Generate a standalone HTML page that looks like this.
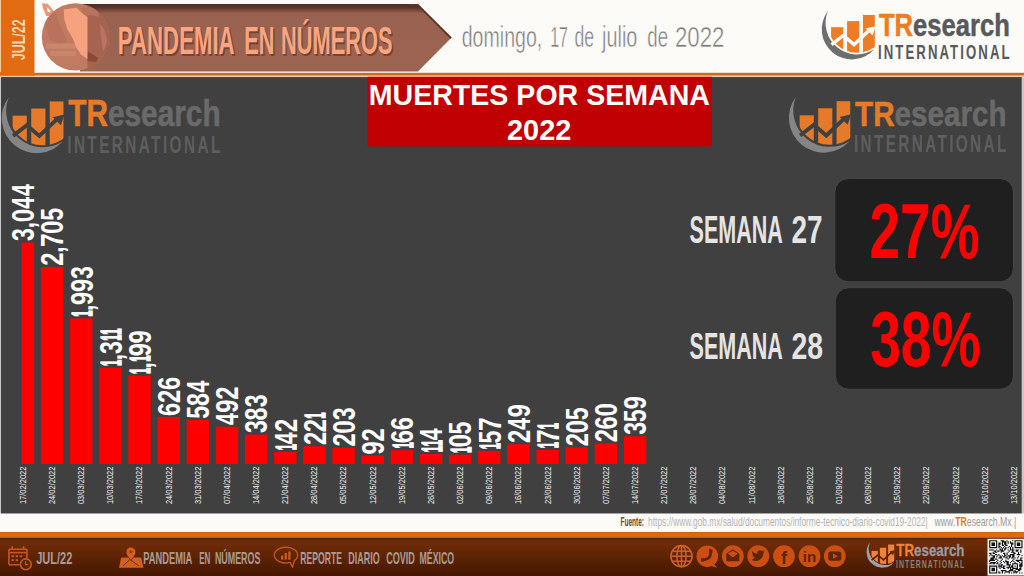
<!DOCTYPE html>
<html><head><meta charset="utf-8"><title>Muertes por semana 2022</title>
<style>
html,body{margin:0;padding:0;background:#fdfbf8;}
body{width:1024px;height:576px;overflow:hidden;position:relative;}
svg{display:block;position:absolute;left:0;top:0;}
</style></head><body>
<svg width="1024" height="576" viewBox="0 0 1024 576">
<defs>
<clipPath id="lc"><circle cx="39.07" cy="14.94" r="29.7"/></clipPath>
<linearGradient id="foot" x1="0" y1="0" x2="0" y2="1"><stop offset="0" stop-color="#722c06"/><stop offset="0.2" stop-color="#6c2a06"/><stop offset="1" stop-color="#431700"/></linearGradient>
<linearGradient id="ban" x1="0" y1="0" x2="0" y2="1"><stop offset="0" stop-color="#4b2c25"/><stop offset="0.05" stop-color="#58342a"/><stop offset="0.09" stop-color="#774838"/><stop offset="0.14" stop-color="#99614f"/><stop offset="1" stop-color="#9d6452"/></linearGradient><clipPath id="bc"><polygon points="80,4 418,4 451.6,37.5 418,71.5 80,71.5"/></clipPath>
</defs>
<rect x="0" y="0" width="1024" height="576" fill="#fdfbf8"/>
<polygon points="80,4 418,4 451.6,37.5 418,71.5 80,71.5" fill="url(#ban)"/><polyline points="410,4 418.5,4 452,37.5" fill="none" stroke="#5a3429" stroke-width="4" clip-path="url(#bc)"/><path d="M41.9 3.2 L47.8 3.8 L54.2 11.5 L52.5 16 L46.2 16 L43.2 8.8 Z" fill="#e6987a"/><path d="M46.9 7.2 L50.6 10.6 L49.6 12.6 L47.4 11.2 Z" fill="#fdfbf8"/><clipPath id="gc"><circle cx="75.5" cy="36.9" r="33.7"/></clipPath>
<g clip-path="url(#gc)">
<rect x="40" y="2" width="72" height="70" fill="#c27b63"/>
<path d="M44 20 L55 12 L62 30 L68 42 L60 44 L50 40 Z" fill="#b8705a" opacity="0.8"/>
<rect x="46" y="43.6" width="30" height="5" fill="#cd8b71" opacity="0.8"/>
<rect x="50" y="51" width="26" height="5" fill="#cd8b71" opacity="0.7"/>
<rect x="87.4" y="2" width="25" height="70" fill="#a6634f"/>
<path d="M80.4 8 Q90 5 98 10 L99 17 Q92 14 86 16 Q82 13 80.4 8 Z" fill="#b8735c"/>
<path d="M100 24 Q106 30 107 40 Q106 48 103 51 Q101 40 100 24 Z" fill="#b87460"/>
<path d="M87.4 51.3 Q92 54 98.3 58 L96 62 L87.4 61 Z" fill="#8a4937"/>
<path d="M63.7 9.6 L76.5 7.7 L81.6 12.8 L87.4 17.3 L87.4 59 L81 54.6 L76.5 48.1 L72.7 38.5 L66.9 28.2 L64.3 19.3 Z" fill="#f7a27e"/>
</g>
<text x="119.13" y="55.7" font-family="Liberation Sans" font-weight="bold" font-size="38.7" textLength="116.84" lengthAdjust="spacingAndGlyphs" fill="#5a2e1e" opacity="0.6">PANDEMIA</text><text x="245.64" y="55.7" font-family="Liberation Sans" font-weight="bold" font-size="38.7" textLength="30.22" lengthAdjust="spacingAndGlyphs" fill="#5a2e1e" opacity="0.6">EN</text><text x="282.34" y="55.7" font-family="Liberation Sans" font-weight="bold" font-size="38.7" textLength="111.61" lengthAdjust="spacingAndGlyphs" fill="#5a2e1e" opacity="0.6">NÚMEROS</text><text x="117.83" y="54.4" font-family="Liberation Sans" font-weight="bold" font-size="38.7" textLength="116.84" lengthAdjust="spacingAndGlyphs" fill="#f8a580">PANDEMIA</text><text x="244.34" y="54.4" font-family="Liberation Sans" font-weight="bold" font-size="38.7" textLength="30.22" lengthAdjust="spacingAndGlyphs" fill="#f8a580">EN</text><text x="281.04" y="54.4" font-family="Liberation Sans" font-weight="bold" font-size="38.7" textLength="111.61" lengthAdjust="spacingAndGlyphs" fill="#f8a580">NÚMEROS</text><text x="461.68" y="47.4" font-family="Liberation Sans" font-size="30.2" textLength="80.58" lengthAdjust="spacingAndGlyphs" fill="#7f7f7f" stroke="#fdfbf8" stroke-width="0.5">domingo,</text><text x="550.19" y="47.4" font-family="Liberation Sans" font-size="30.2" textLength="17.71" lengthAdjust="spacingAndGlyphs" fill="#7f7f7f" stroke="#fdfbf8" stroke-width="0.5">17</text><text x="574.56" y="47.4" font-family="Liberation Sans" font-size="30.2" textLength="19.62" lengthAdjust="spacingAndGlyphs" fill="#7f7f7f" stroke="#fdfbf8" stroke-width="0.5">de</text><text x="602.08" y="47.4" font-family="Liberation Sans" font-size="30.2" textLength="35.25" lengthAdjust="spacingAndGlyphs" fill="#7f7f7f" stroke="#fdfbf8" stroke-width="0.5">julio</text><text x="647.32" y="47.4" font-family="Liberation Sans" font-size="30.2" textLength="20.71" lengthAdjust="spacingAndGlyphs" fill="#7f7f7f" stroke="#fdfbf8" stroke-width="0.5">de</text><text x="674.98" y="47.4" font-family="Liberation Sans" font-size="30.2" textLength="49.44" lengthAdjust="spacingAndGlyphs" fill="#7f7f7f" stroke="#fdfbf8" stroke-width="0.5">2022</text><g transform="translate(818 8) scale(1.0)" opacity="1"><path d="M9.8 3.3 A30.05 30.05 0 0 0 56.3 41.3 A31.5 31.5 0 0 1 9.8 3.3 Z" fill="#6d6e70"/><g fill="#ef7b22" clip-path="url(#lc)"><rect x="13.1" y="19.2" width="12.2" height="40"/><rect x="29.1" y="13.1" width="12.2" height="40"/><rect x="45" y="7" width="11.8" height="40"/></g><polyline points="13.5,36.6 25.3,27.4 36.1,36.6 51.5,22" fill="none" stroke="#fdfbf8" stroke-width="3.4"/><path d="M57.6 18.2 L47.6 20.6 L54.6 27.4 Z" fill="#fdfbf8"/><text x="60.91" y="28.1" font-family="Liberation Sans" font-weight="bold" font-size="31" textLength="130.87" lengthAdjust="spacingAndGlyphs" stroke-width="0.5"><tspan fill="#ef7b22" stroke="#ef7b22">TR</tspan><tspan fill="#58595b" stroke="#58595b">esearch</tspan></text><text x="60.0" y="51.2" font-family="Liberation Sans" font-weight="bold" font-size="20.2" textLength="133.6" lengthAdjust="spacingAndGlyphs" letter-spacing="3.2" fill="#58595b">INTERNATIONAL</text></g><rect x="0" y="72.8" width="1024" height="2.9" fill="#c96a1c"/><rect x="0" y="75.7" width="1024" height="1.4" fill="#ecc5a4"/><rect x="0" y="0" width="34.5" height="75.7" fill="#e06b12"/><rect x="0" y="0" width="1" height="72" fill="#f6c89a"/><text transform="translate(25 60) rotate(-90)" x="-0.19" font-family="Liberation Sans" font-weight="bold" font-size="17.7" textLength="40.79" lengthAdjust="spacingAndGlyphs" fill="#f8d3b2">JUL/22</text>
<rect x="0" y="77.1" width="1024" height="436.3" fill="#c8c8c8"/><rect x="1" y="77.1" width="1020.7" height="436.3" fill="#404040"/><g transform="translate(-2.64 93.3) scale(1.164)" opacity="1"><path d="M9.8 3.3 A30.05 30.05 0 0 0 56.3 41.3 A31.5 31.5 0 0 1 9.8 3.3 Z" fill="#858585"/><g fill="#e57a2a" clip-path="url(#lc)"><rect x="13.1" y="19.2" width="12.2" height="40"/><rect x="29.1" y="13.1" width="12.2" height="40"/><rect x="45" y="7" width="11.8" height="40"/></g><polyline points="13.5,36.6 25.3,27.4 36.1,36.6 51.5,22" fill="none" stroke="#404040" stroke-width="3.4"/><path d="M57.6 18.2 L47.6 20.6 L54.6 27.4 Z" fill="#404040"/><text x="60.91" y="28.1" font-family="Liberation Sans" font-weight="bold" font-size="31" textLength="130.87" lengthAdjust="spacingAndGlyphs" stroke-width="0.5"><tspan fill="#e57a2a" stroke="#e57a2a">TR</tspan><tspan fill="#6a6a6a" stroke="#6a6a6a">esearch</tspan></text><text x="60.0" y="51.2" font-family="Liberation Sans" font-weight="bold" font-size="20.2" textLength="133.6" lengthAdjust="spacingAndGlyphs" letter-spacing="3.2" fill="#5e5e5e">INTERNATIONAL</text></g><g transform="translate(784.5 93.1) scale(1.158)" opacity="1"><path d="M9.8 3.3 A30.05 30.05 0 0 0 56.3 41.3 A31.5 31.5 0 0 1 9.8 3.3 Z" fill="#858585"/><g fill="#e57a2a" clip-path="url(#lc)"><rect x="13.1" y="19.2" width="12.2" height="40"/><rect x="29.1" y="13.1" width="12.2" height="40"/><rect x="45" y="7" width="11.8" height="40"/></g><polyline points="13.5,36.6 25.3,27.4 36.1,36.6 51.5,22" fill="none" stroke="#404040" stroke-width="3.4"/><path d="M57.6 18.2 L47.6 20.6 L54.6 27.4 Z" fill="#404040"/><text x="60.91" y="28.1" font-family="Liberation Sans" font-weight="bold" font-size="31" textLength="130.87" lengthAdjust="spacingAndGlyphs" stroke-width="0.5"><tspan fill="#e57a2a" stroke="#e57a2a">TR</tspan><tspan fill="#6a6a6a" stroke="#6a6a6a">esearch</tspan></text><text x="60.0" y="51.2" font-family="Liberation Sans" font-weight="bold" font-size="20.2" textLength="133.6" lengthAdjust="spacingAndGlyphs" letter-spacing="3.2" fill="#5e5e5e">INTERNATIONAL</text></g><rect x="367.6" y="76.8" width="344.3" height="69.7" fill="#c00000"/><text x="368.79" y="104.6" font-family="Liberation Sans" font-weight="bold" font-size="29.8" textLength="341.16" lengthAdjust="spacingAndGlyphs" fill="#ffffff">MUERTES POR SEMANA</text><text x="507.0" y="139.6" font-family="Liberation Sans" font-weight="bold" font-size="29.5" textLength="64.36" lengthAdjust="spacingAndGlyphs" fill="#ffffff">2022</text><clipPath id="pc"><rect x="21.7" y="78" width="1000" height="440"/></clipPath><g clip-path="url(#pc)" fill="#ff0000"><rect x="11.75" y="242.46" width="22.4" height="221.54"/><rect x="40.90" y="266.94" width="22.4" height="197.06"/><rect x="70.05" y="318.35" width="22.4" height="145.65"/><rect x="99.20" y="367.59" width="22.4" height="96.41"/><rect x="128.35" y="375.67" width="22.4" height="88.33"/><rect x="157.50" y="417.04" width="22.4" height="46.96"/><rect x="186.65" y="420.08" width="22.4" height="43.92"/><rect x="215.80" y="426.72" width="22.4" height="37.28"/><rect x="244.95" y="434.59" width="22.4" height="29.41"/><rect x="274.10" y="451.99" width="22.4" height="12.01"/><rect x="303.25" y="446.28" width="22.4" height="17.72"/><rect x="332.40" y="447.58" width="22.4" height="16.42"/><rect x="361.55" y="455.60" width="22.4" height="8.40"/><rect x="390.70" y="450.25" width="22.4" height="13.75"/><rect x="419.85" y="454.01" width="22.4" height="9.99"/><rect x="449.00" y="454.66" width="22.4" height="9.34"/><rect x="478.15" y="450.90" width="22.4" height="13.10"/><rect x="507.30" y="444.26" width="22.4" height="19.74"/><rect x="536.45" y="449.89" width="22.4" height="14.11"/><rect x="565.60" y="447.44" width="22.4" height="16.56"/><rect x="594.75" y="443.47" width="22.4" height="20.53"/><rect x="623.90" y="436.32" width="22.4" height="27.68"/></g><g font-family="Liberation Sans" font-weight="bold" font-size="31.7" fill="#ffffff"><text transform="translate(34.20 240.99) rotate(-90) scale(0.730 1)">3</text><text transform="translate(34.20 228.28) rotate(-90) scale(0.706 1)">,</text><text transform="translate(34.20 222.32) rotate(-90) scale(0.763 1)">0</text><text transform="translate(34.20 208.79) rotate(-90) scale(0.677 1)">4</text><text transform="translate(34.20 195.89) rotate(-90) scale(0.677 1)">4</text><text transform="translate(63.35 265.77) rotate(-90) scale(0.754 1)">2</text><text transform="translate(63.35 252.76) rotate(-90) scale(0.706 1)">,</text><text transform="translate(63.35 246.89) rotate(-90) scale(0.773 1)">7</text><text transform="translate(63.35 233.90) rotate(-90) scale(0.763 1)">0</text><text transform="translate(63.35 220.75) rotate(-90) scale(0.729 1)">5</text><text transform="translate(92.00 316.65) rotate(-90) scale(0.353 0.955)" stroke="#ffffff" stroke-width="1.1" vector-effect="non-scaling-stroke">1</text><text transform="translate(92.50 311.06) rotate(-90) scale(0.706 1)">,</text><text transform="translate(92.50 304.97) rotate(-90) scale(0.749 1)">9</text><text transform="translate(92.50 292.07) rotate(-90) scale(0.749 1)">9</text><text transform="translate(92.50 278.88) rotate(-90) scale(0.730 1)">3</text><text transform="translate(121.15 365.89) rotate(-90) scale(0.353 0.955)" stroke="#ffffff" stroke-width="1.1" vector-effect="non-scaling-stroke">1</text><text transform="translate(121.65 360.30) rotate(-90) scale(0.706 1)">,</text><text transform="translate(121.65 353.92) rotate(-90) scale(0.730 1)">3</text><text transform="translate(121.15 340.79) rotate(-90) scale(0.353 0.955)" stroke="#ffffff" stroke-width="1.1" vector-effect="non-scaling-stroke">1</text><text transform="translate(121.15 334.79) rotate(-90) scale(0.353 0.955)" stroke="#ffffff" stroke-width="1.1" vector-effect="non-scaling-stroke">1</text><text transform="translate(150.30 373.98) rotate(-90) scale(0.353 0.955)" stroke="#ffffff" stroke-width="1.1" vector-effect="non-scaling-stroke">1</text><text transform="translate(150.80 368.39) rotate(-90) scale(0.706 1)">,</text><text transform="translate(150.30 361.78) rotate(-90) scale(0.353 0.955)" stroke="#ffffff" stroke-width="1.1" vector-effect="non-scaling-stroke">1</text><text transform="translate(150.80 356.30) rotate(-90) scale(0.749 1)">9</text><text transform="translate(150.80 343.40) rotate(-90) scale(0.749 1)">9</text><text transform="translate(179.95 415.91) rotate(-90) scale(0.750 1)">6</text><text transform="translate(179.95 402.97) rotate(-90) scale(0.754 1)">2</text><text transform="translate(179.95 390.11) rotate(-90) scale(0.750 1)">6</text><text transform="translate(209.10 418.79) rotate(-90) scale(0.729 1)">5</text><text transform="translate(209.10 405.91) rotate(-90) scale(0.735 1)">8</text><text transform="translate(209.10 392.60) rotate(-90) scale(0.677 1)">4</text><text transform="translate(238.25 425.04) rotate(-90) scale(0.677 1)">4</text><text transform="translate(238.25 412.64) rotate(-90) scale(0.749 1)">9</text><text transform="translate(238.25 399.75) rotate(-90) scale(0.754 1)">2</text><text transform="translate(267.40 433.12) rotate(-90) scale(0.730 1)">3</text><text transform="translate(267.40 420.43) rotate(-90) scale(0.735 1)">8</text><text transform="translate(267.40 407.32) rotate(-90) scale(0.730 1)">3</text><text transform="translate(296.05 450.29) rotate(-90) scale(0.353 0.955)" stroke="#ffffff" stroke-width="1.1" vector-effect="non-scaling-stroke">1</text><text transform="translate(296.55 444.31) rotate(-90) scale(0.677 1)">4</text><text transform="translate(296.55 431.92) rotate(-90) scale(0.754 1)">2</text><text transform="translate(325.70 445.11) rotate(-90) scale(0.754 1)">2</text><text transform="translate(325.70 432.21) rotate(-90) scale(0.754 1)">2</text><text transform="translate(325.20 418.79) rotate(-90) scale(0.353 0.955)" stroke="#ffffff" stroke-width="1.1" vector-effect="non-scaling-stroke">1</text><text transform="translate(354.85 446.41) rotate(-90) scale(0.754 1)">2</text><text transform="translate(354.85 433.64) rotate(-90) scale(0.763 1)">0</text><text transform="translate(354.85 420.31) rotate(-90) scale(0.730 1)">3</text><text transform="translate(384.00 454.42) rotate(-90) scale(0.749 1)">9</text><text transform="translate(384.00 441.53) rotate(-90) scale(0.754 1)">2</text><text transform="translate(412.65 448.56) rotate(-90) scale(0.353 0.955)" stroke="#ffffff" stroke-width="1.1" vector-effect="non-scaling-stroke">1</text><text transform="translate(413.15 443.13) rotate(-90) scale(0.750 1)">6</text><text transform="translate(413.15 430.23) rotate(-90) scale(0.750 1)">6</text><text transform="translate(441.80 452.31) rotate(-90) scale(0.353 0.955)" stroke="#ffffff" stroke-width="1.1" vector-effect="non-scaling-stroke">1</text><text transform="translate(441.80 446.31) rotate(-90) scale(0.353 0.955)" stroke="#ffffff" stroke-width="1.1" vector-effect="non-scaling-stroke">1</text><text transform="translate(442.30 440.33) rotate(-90) scale(0.677 1)">4</text><text transform="translate(470.95 452.96) rotate(-90) scale(0.353 0.955)" stroke="#ffffff" stroke-width="1.1" vector-effect="non-scaling-stroke">1</text><text transform="translate(471.45 447.62) rotate(-90) scale(0.763 1)">0</text><text transform="translate(471.45 434.47) rotate(-90) scale(0.729 1)">5</text><text transform="translate(500.10 449.21) rotate(-90) scale(0.353 0.955)" stroke="#ffffff" stroke-width="1.1" vector-effect="non-scaling-stroke">1</text><text transform="translate(500.60 443.62) rotate(-90) scale(0.729 1)">5</text><text transform="translate(500.60 431.06) rotate(-90) scale(0.773 1)">7</text><text transform="translate(529.75 443.09) rotate(-90) scale(0.754 1)">2</text><text transform="translate(529.75 429.69) rotate(-90) scale(0.677 1)">4</text><text transform="translate(529.75 417.29) rotate(-90) scale(0.749 1)">9</text><text transform="translate(558.40 448.20) rotate(-90) scale(0.353 0.955)" stroke="#ffffff" stroke-width="1.1" vector-effect="non-scaling-stroke">1</text><text transform="translate(558.90 442.95) rotate(-90) scale(0.773 1)">7</text><text transform="translate(558.40 429.30) rotate(-90) scale(0.353 0.955)" stroke="#ffffff" stroke-width="1.1" vector-effect="non-scaling-stroke">1</text><text transform="translate(588.05 446.27) rotate(-90) scale(0.754 1)">2</text><text transform="translate(588.05 433.50) rotate(-90) scale(0.763 1)">0</text><text transform="translate(588.05 420.35) rotate(-90) scale(0.729 1)">5</text><text transform="translate(617.20 442.30) rotate(-90) scale(0.754 1)">2</text><text transform="translate(617.20 429.44) rotate(-90) scale(0.750 1)">6</text><text transform="translate(617.20 416.62) rotate(-90) scale(0.763 1)">0</text><text transform="translate(646.35 434.85) rotate(-90) scale(0.730 1)">3</text><text transform="translate(646.35 422.13) rotate(-90) scale(0.729 1)">5</text><text transform="translate(646.35 409.34) rotate(-90) scale(0.749 1)">9</text></g><g font-family="Liberation Sans" font-size="8.2" fill="#f0f0f0"><text transform="translate(25.80 503.50) rotate(-90)" x="-0.57" textLength="37.45" lengthAdjust="spacingAndGlyphs">17/02/2022</text><text transform="translate(54.95 503.50) rotate(-90)" x="-0.57" textLength="37.45" lengthAdjust="spacingAndGlyphs">24/02/2022</text><text transform="translate(84.10 503.50) rotate(-90)" x="-0.57" textLength="37.45" lengthAdjust="spacingAndGlyphs">03/03/2022</text><text transform="translate(113.25 503.50) rotate(-90)" x="-0.57" textLength="37.45" lengthAdjust="spacingAndGlyphs">10/03/2022</text><text transform="translate(142.40 503.50) rotate(-90)" x="-0.57" textLength="37.45" lengthAdjust="spacingAndGlyphs">17/03/2022</text><text transform="translate(171.55 503.50) rotate(-90)" x="-0.57" textLength="37.45" lengthAdjust="spacingAndGlyphs">24/03/2022</text><text transform="translate(200.70 503.50) rotate(-90)" x="-0.57" textLength="37.45" lengthAdjust="spacingAndGlyphs">31/03/2022</text><text transform="translate(229.85 503.50) rotate(-90)" x="-0.57" textLength="37.45" lengthAdjust="spacingAndGlyphs">07/04/2022</text><text transform="translate(259.00 503.50) rotate(-90)" x="-0.57" textLength="37.45" lengthAdjust="spacingAndGlyphs">14/04/2022</text><text transform="translate(288.15 503.50) rotate(-90)" x="-0.57" textLength="37.45" lengthAdjust="spacingAndGlyphs">21/04/2022</text><text transform="translate(317.30 503.50) rotate(-90)" x="-0.57" textLength="37.45" lengthAdjust="spacingAndGlyphs">28/04/2022</text><text transform="translate(346.45 503.50) rotate(-90)" x="-0.57" textLength="37.45" lengthAdjust="spacingAndGlyphs">05/05/2022</text><text transform="translate(375.60 503.50) rotate(-90)" x="-0.57" textLength="37.45" lengthAdjust="spacingAndGlyphs">12/05/2022</text><text transform="translate(404.75 503.50) rotate(-90)" x="-0.57" textLength="37.45" lengthAdjust="spacingAndGlyphs">19/05/2022</text><text transform="translate(433.90 503.50) rotate(-90)" x="-0.57" textLength="37.45" lengthAdjust="spacingAndGlyphs">26/05/2022</text><text transform="translate(463.05 503.50) rotate(-90)" x="-0.57" textLength="37.45" lengthAdjust="spacingAndGlyphs">02/06/2022</text><text transform="translate(492.20 503.50) rotate(-90)" x="-0.57" textLength="37.45" lengthAdjust="spacingAndGlyphs">09/06/2022</text><text transform="translate(521.35 503.50) rotate(-90)" x="-0.57" textLength="37.45" lengthAdjust="spacingAndGlyphs">16/06/2022</text><text transform="translate(550.50 503.50) rotate(-90)" x="-0.57" textLength="37.45" lengthAdjust="spacingAndGlyphs">23/06/2022</text><text transform="translate(579.65 503.50) rotate(-90)" x="-0.57" textLength="37.45" lengthAdjust="spacingAndGlyphs">30/06/2022</text><text transform="translate(608.80 503.50) rotate(-90)" x="-0.57" textLength="37.45" lengthAdjust="spacingAndGlyphs">07/07/2022</text><text transform="translate(637.95 503.50) rotate(-90)" x="-0.57" textLength="37.45" lengthAdjust="spacingAndGlyphs">14/07/2022</text><text transform="translate(667.10 503.50) rotate(-90)" x="-0.57" textLength="37.45" lengthAdjust="spacingAndGlyphs">21/07/2022</text><text transform="translate(696.25 503.50) rotate(-90)" x="-0.57" textLength="37.45" lengthAdjust="spacingAndGlyphs">28/07/2022</text><text transform="translate(725.40 503.50) rotate(-90)" x="-0.57" textLength="37.45" lengthAdjust="spacingAndGlyphs">04/08/2022</text><text transform="translate(754.55 503.50) rotate(-90)" x="-0.57" textLength="37.45" lengthAdjust="spacingAndGlyphs">11/08/2022</text><text transform="translate(783.70 503.50) rotate(-90)" x="-0.57" textLength="37.45" lengthAdjust="spacingAndGlyphs">18/08/2022</text><text transform="translate(812.85 503.50) rotate(-90)" x="-0.57" textLength="37.45" lengthAdjust="spacingAndGlyphs">25/08/2022</text><text transform="translate(842.00 503.50) rotate(-90)" x="-0.57" textLength="37.45" lengthAdjust="spacingAndGlyphs">01/09/2022</text><text transform="translate(871.15 503.50) rotate(-90)" x="-0.57" textLength="37.45" lengthAdjust="spacingAndGlyphs">08/09/2022</text><text transform="translate(900.30 503.50) rotate(-90)" x="-0.57" textLength="37.45" lengthAdjust="spacingAndGlyphs">15/09/2022</text><text transform="translate(929.45 503.50) rotate(-90)" x="-0.57" textLength="37.45" lengthAdjust="spacingAndGlyphs">22/09/2022</text><text transform="translate(958.60 503.50) rotate(-90)" x="-0.57" textLength="37.45" lengthAdjust="spacingAndGlyphs">29/09/2022</text><text transform="translate(987.75 503.50) rotate(-90)" x="-0.57" textLength="37.45" lengthAdjust="spacingAndGlyphs">06/10/2022</text><text transform="translate(1016.90 503.50) rotate(-90)" x="-0.57" textLength="37.45" lengthAdjust="spacingAndGlyphs">13/10/2022</text></g><g fill="#1f1f1f" stroke="#474747" stroke-width="1"><rect x="834.8" y="178.5" width="178.7" height="103.3" rx="13.5"/><rect x="835.3" y="287.7" width="178.2" height="101.6" rx="13.5"/></g><text x="689.58" y="242.5" font-family="Liberation Sans" font-weight="bold" font-size="37.9" textLength="93.29" lengthAdjust="spacingAndGlyphs" fill="#e4e4e4">SEMANA</text><text x="791.53" y="242.5" font-family="Liberation Sans" font-weight="bold" font-size="37.9" textLength="31.1" lengthAdjust="spacingAndGlyphs" fill="#e4e4e4">27</text><text x="689.58" y="358.75" font-family="Liberation Sans" font-weight="bold" font-size="37.0" textLength="93.29" lengthAdjust="spacingAndGlyphs" fill="#e4e4e4">SEMANA</text><text x="791.52" y="358.75" font-family="Liberation Sans" font-weight="bold" font-size="37.0" textLength="31.56" lengthAdjust="spacingAndGlyphs" fill="#e4e4e4">28</text><text x="869.49" y="257.8" font-family="Liberation Sans" font-weight="bold" font-size="78.2" textLength="110.06" lengthAdjust="spacingAndGlyphs" fill="#ff0000">27%</text><text x="870.13" y="366" font-family="Liberation Sans" font-weight="bold" font-size="77.4" textLength="110.63" lengthAdjust="spacingAndGlyphs" fill="#ff0000">38%</text><text x="620.57" y="526.3" font-family="Liberation Sans" font-weight="bold" font-size="12.8" textLength="23.46" lengthAdjust="spacingAndGlyphs" fill="#5e4a3a">Fuente:</text><text x="648.12" y="526.3" font-family="Liberation Sans" font-size="12.8" textLength="279.62" lengthAdjust="spacingAndGlyphs" fill="#b4b4b4">https://www.gob.mx/salud/documentos/informe-tecnico-diario-covid19-2022|</text><text x="934.61" y="526.3" font-family="Liberation Sans" font-size="12.8" textLength="81.66" lengthAdjust="spacingAndGlyphs" fill="#9a9a9a">www.<tspan fill="#e07a20" font-weight="bold">TR</tspan>esearch.Mx |</text>
<rect x="0" y="532" width="1024" height="6" fill="#e2680c"/><rect x="0" y="532" width="1024" height="1.2" fill="#c8661c"/>
<rect x="0" y="538" width="1024" height="38" fill="url(#foot)"/><rect x="0" y="537.8" width="1024" height="1.6" fill="#5c2204"/>
<g fill="none" stroke="#c9561a" stroke-width="1.6"><rect x="8.9" y="549.2" width="18" height="15.5" rx="1"/><line x1="8.9" y1="552.6" x2="26.9" y2="552.6"/><line x1="12.2" y1="546.3" x2="12.2" y2="550"/><line x1="23.6" y1="546.3" x2="23.6" y2="550"/></g><g fill="#c9561a"><rect x="11.5" y="555.2" width="2.4" height="2"/><rect x="15.6" y="555.2" width="2.4" height="2"/><rect x="19.7" y="555.2" width="2.4" height="2"/><rect x="11.5" y="559.2" width="2.4" height="2"/><rect x="15.6" y="559.2" width="2.4" height="2"/></g><circle cx="25.8" cy="564.3" r="6.3" fill="#5a2206"/><circle cx="25.8" cy="564.3" r="5.4" fill="none" stroke="#c9561a" stroke-width="1.6"/><path d="M25.6 561.2 V564.6 H28.4" fill="none" stroke="#c9561a" stroke-width="1.3"/><text x="36.13" y="563.9" font-family="Liberation Sans" font-weight="bold" font-size="16.9" textLength="36.21" lengthAdjust="spacingAndGlyphs" fill="#aa9c94">JUL/22</text><path d="M121.2 557.5 L141.2 557.5 L143.4 567.8 L119 567.8 Z" fill="#d2601c"/><path d="M123 566 L130 559.5 L139 566" fill="none" stroke="#6a2a08" stroke-width="0.9"/><path d="M130.9 560.3 C127.6 556.5 126 554.6 126 552 A4.9 4.9 0 0 1 135.8 552 C135.8 554.6 134.2 556.5 130.9 560.3 Z" fill="#d2601c" stroke="#6a2a08" stroke-width="0.8"/><circle cx="130.9" cy="551.8" r="1.6" fill="#9a3a0c"/><text x="143.18" y="564.0" font-family="Liberation Sans" font-weight="bold" font-size="17.4" textLength="49.06" lengthAdjust="spacingAndGlyphs" fill="#aa9c94">PANDEMIA</text><text x="199.16" y="564.0" font-family="Liberation Sans" font-weight="bold" font-size="17.4" textLength="11.18" lengthAdjust="spacingAndGlyphs" fill="#aa9c94">EN</text><text x="214.91" y="564.0" font-family="Liberation Sans" font-weight="bold" font-size="17.4" textLength="45.44" lengthAdjust="spacingAndGlyphs" fill="#aa9c94">NÚMEROS</text><path d="M292.6 567.2 L290.2 562.4 A11.7 7.8 0 1 1 294.3 560.6 Z" fill="none" stroke="#c9561a" stroke-width="1.3" stroke-linejoin="round"/><g fill="#c9561a"><rect x="281" y="555.5" width="2.4" height="4.2"/><rect x="284.6" y="553" width="2.4" height="6.7"/><rect x="288.2" y="551.4" width="2.4" height="8.3"/></g><text x="300.22" y="563.9" font-family="Liberation Sans" font-weight="bold" font-size="17.0" textLength="41.71" lengthAdjust="spacingAndGlyphs" fill="#aa9c94">REPORTE</text><text x="348.3" y="563.9" font-family="Liberation Sans" font-weight="bold" font-size="17.0" textLength="31.38" lengthAdjust="spacingAndGlyphs" fill="#aa9c94">DIARIO</text><text x="386.13" y="563.9" font-family="Liberation Sans" font-weight="bold" font-size="17.0" textLength="28.75" lengthAdjust="spacingAndGlyphs" fill="#aa9c94">COVID</text><text x="419.51" y="563.9" font-family="Liberation Sans" font-weight="bold" font-size="17.0" textLength="34.55" lengthAdjust="spacingAndGlyphs" fill="#aa9c94">MÉXICO</text><g fill="none" stroke="#d0602a" stroke-width="1.5"><circle cx="681.5" cy="556.2" r="10.6"/><ellipse cx="681.5" cy="556.2" rx="4.6" ry="10.6"/><line x1="681.5" y1="545.6" x2="681.5" y2="566.8000000000001"/><line x1="672.3" y1="551.2" x2="690.7" y2="551.2"/><line x1="672.3" y1="561.2" x2="690.7" y2="561.2"/><line x1="670.9" y1="556.2" x2="692.1" y2="556.2"/></g><circle cx="707.3" cy="556.2" r="10.8" fill="#cc4f12"/><path d="M713.3 563.2 L717.3 567.7 L710.3 565.7 Z" fill="#cc4f12"/><path d="M710.5 550.4000000000001 Q711.9 559.8000000000001 702.5 559.8000000000001" fill="none" stroke="#5e2406" stroke-width="2.6" stroke-linecap="round"/><path d="M708.9 549.2 L712.6999999999999 550.2 L712.3 553.0 L709.5 552.6 Z" fill="#5e2406"/><path d="M700.9 558.0 L701.3 561.8000000000001 L704.3 561.6 L704.0999999999999 558.6 Z" fill="#5e2406"/><circle cx="732.8" cy="556.2" r="10.9" fill="#cc4f12"/><path d="M726.3 553.7 L732.8 549.2 L739.3 553.7 V561.2 H726.3 Z" fill="#5e2406"/><path d="M727.8 553.6 L732.8 557.4000000000001 L737.8 553.6 L732.8 550.7 Z" fill="#cc4f12"/><circle cx="758.3" cy="556.2" r="10.9" fill="#cc4f12"/><path d="M751.8 560.0 C756.3 562.7 762.8 560.2 763.3 553.2 L764.8 551.4000000000001 L762.9 551.8000000000001 L763.9 550.2 L761.8 550.9000000000001 C759.8 549.2 756.8 550.7 757.3 553.7 C754.8 553.6 753.3 552.4000000000001 752.3 550.9000000000001 C751.6999999999999 552.7 752.5 554.2 753.5 554.8000000000001 L752.4 554.6 C752.6999999999999 556.2 753.6999999999999 557.0 754.6999999999999 557.3000000000001 C753.9 558.8000000000001 752.8 559.6 751.8 560.0 Z" fill="#5e2406"/><circle cx="784" cy="556.2" r="10.9" fill="#cc4f12"/><text x="784" y="564.0" text-anchor="middle" font-family="Liberation Sans" font-weight="bold" font-size="18" fill="#5e2406">f</text><circle cx="809.5" cy="556.2" r="10.9" fill="#cc4f12"/><text x="809.5" y="561.8000000000001" text-anchor="middle" font-family="Liberation Sans" font-weight="bold" font-size="15" fill="#5e2406">in</text><circle cx="834.8" cy="556.2" r="10.9" fill="#cc4f12"/><rect x="828.3" y="551.6" width="13" height="9.2" rx="2.4" fill="#5e2406"/><path d="M833.0 553.6 L837.8 556.2 L833.0 558.8000000000001 Z" fill="#cc4f12"/><g transform="translate(864.7 540.9) scale(0.52)" opacity="1"><path d="M9.8 3.3 A30.05 30.05 0 0 0 56.3 41.3 A31.5 31.5 0 0 1 9.8 3.3 Z" fill="#a0a0a6"/><g fill="#ee8438" clip-path="url(#lc)"><rect x="13.1" y="19.2" width="12.2" height="40"/><rect x="29.1" y="13.1" width="12.2" height="40"/><rect x="45" y="7" width="11.8" height="40"/></g><polyline points="13.5,36.6 25.3,27.4 36.1,36.6 51.5,22" fill="none" stroke="#5a2206" stroke-width="3.4"/><path d="M57.6 18.2 L47.6 20.6 L54.6 27.4 Z" fill="#5a2206"/><text x="60.91" y="28.1" font-family="Liberation Sans" font-weight="bold" font-size="31" textLength="130.87" lengthAdjust="spacingAndGlyphs" stroke-width="0.5"><tspan fill="#ee8438" stroke="#ee8438">TR</tspan><tspan fill="#9a9aa6" stroke="#9a9aa6">esearch</tspan></text><text x="60.0" y="51.2" font-family="Liberation Sans" font-weight="bold" font-size="20.2" textLength="133.6" lengthAdjust="spacingAndGlyphs" letter-spacing="3.2" fill="#8c7f78">INTERNATIONAL</text></g><rect x="987.5" y="538.8" width="36.5" height="36.7" fill="#f4f4f4"/><path transform="translate(989.2 540.2) scale(1.15)" d="M0 0h7v1h-7zM10 0h3v1h-3zM15 0h1v1h-1zM20 0h1v1h-1zM22 0h7v1h-7zM0 1h1v1h-1zM6 1h1v1h-1zM11 1h4v1h-4zM16 1h1v1h-1zM18 1h1v1h-1zM22 1h1v1h-1zM28 1h1v1h-1zM0 2h1v1h-1zM2 2h3v1h-3zM6 2h1v1h-1zM8 2h2v1h-2zM11 2h1v1h-1zM13 2h2v1h-2zM16 2h1v1h-1zM18 2h3v1h-3zM22 2h1v1h-1zM24 2h3v1h-3zM28 2h1v1h-1zM0 3h1v1h-1zM2 3h3v1h-3zM6 3h1v1h-1zM8 3h2v1h-2zM11 3h1v1h-1zM13 3h2v1h-2zM19 3h2v1h-2zM22 3h1v1h-1zM24 3h3v1h-3zM28 3h1v1h-1zM0 4h1v1h-1zM2 4h3v1h-3zM6 4h1v1h-1zM8 4h1v1h-1zM11 4h2v1h-2zM14 4h2v1h-2zM19 4h1v1h-1zM22 4h1v1h-1zM24 4h3v1h-3zM28 4h1v1h-1zM0 5h1v1h-1zM6 5h1v1h-1zM8 5h2v1h-2zM13 5h1v1h-1zM17 5h1v1h-1zM19 5h1v1h-1zM22 5h1v1h-1zM28 5h1v1h-1zM0 6h7v1h-7zM8 6h1v1h-1zM10 6h1v1h-1zM12 6h1v1h-1zM14 6h1v1h-1zM16 6h1v1h-1zM18 6h1v1h-1zM20 6h1v1h-1zM22 6h7v1h-7zM9 7h1v1h-1zM11 7h1v1h-1zM13 7h2v1h-2zM18 7h1v1h-1zM20 7h1v1h-1zM0 8h4v1h-4zM6 8h1v1h-1zM9 8h3v1h-3zM13 8h1v1h-1zM16 8h1v1h-1zM18 8h4v1h-4zM23 8h3v1h-3zM27 8h1v1h-1zM4 9h2v1h-2zM7 9h2v1h-2zM10 9h3v1h-3zM17 9h1v1h-1zM20 9h1v1h-1zM23 9h2v1h-2zM27 9h1v1h-1zM3 10h1v1h-1zM5 10h2v1h-2zM10 10h1v1h-1zM16 10h1v1h-1zM19 10h3v1h-3zM25 10h1v1h-1zM27 10h1v1h-1zM0 11h2v1h-2zM3 11h2v1h-2zM12 11h2v1h-2zM15 11h1v1h-1zM21 11h2v1h-2zM25 11h1v1h-1zM1 12h1v1h-1zM5 12h2v1h-2zM8 12h1v1h-1zM13 12h1v1h-1zM15 12h1v1h-1zM18 12h4v1h-4zM24 12h3v1h-3zM0 13h1v1h-1zM2 13h3v1h-3zM7 13h1v1h-1zM9 13h1v1h-1zM11 13h1v1h-1zM13 13h2v1h-2zM16 13h3v1h-3zM20 13h2v1h-2zM28 13h1v1h-1zM3 14h2v1h-2zM6 14h1v1h-1zM9 14h2v1h-2zM12 14h2v1h-2zM15 14h1v1h-1zM17 14h2v1h-2zM20 14h2v1h-2zM25 14h1v1h-1zM1 15h4v1h-4zM8 15h3v1h-3zM14 15h2v1h-2zM17 15h1v1h-1zM19 15h2v1h-2zM22 15h1v1h-1zM24 15h1v1h-1zM27 15h2v1h-2zM1 16h3v1h-3zM5 16h2v1h-2zM11 16h1v1h-1zM16 16h1v1h-1zM21 16h1v1h-1zM27 16h1v1h-1zM0 17h5v1h-5zM7 17h1v1h-1zM10 17h1v1h-1zM14 17h1v1h-1zM20 17h1v1h-1zM23 17h6v1h-6zM0 18h1v1h-1zM6 18h1v1h-1zM9 18h1v1h-1zM12 18h1v1h-1zM14 18h3v1h-3zM19 18h1v1h-1zM21 18h1v1h-1zM24 18h2v1h-2zM28 18h1v1h-1zM1 19h5v1h-5zM7 19h1v1h-1zM10 19h1v1h-1zM13 19h1v1h-1zM15 19h2v1h-2zM18 19h1v1h-1zM22 19h1v1h-1zM26 19h1v1h-1zM28 19h1v1h-1zM0 20h2v1h-2zM3 20h2v1h-2zM6 20h2v1h-2zM9 20h1v1h-1zM15 20h2v1h-2zM20 20h5v1h-5zM27 20h2v1h-2zM8 21h1v1h-1zM10 21h2v1h-2zM15 21h4v1h-4zM20 21h1v1h-1zM24 21h1v1h-1zM26 21h3v1h-3zM0 22h7v1h-7zM8 22h3v1h-3zM12 22h2v1h-2zM17 22h1v1h-1zM19 22h2v1h-2zM22 22h1v1h-1zM24 22h1v1h-1zM26 22h3v1h-3zM0 23h1v1h-1zM6 23h1v1h-1zM8 23h1v1h-1zM10 23h3v1h-3zM15 23h6v1h-6zM24 23h1v1h-1zM27 23h1v1h-1zM0 24h1v1h-1zM2 24h3v1h-3zM6 24h1v1h-1zM9 24h1v1h-1zM12 24h2v1h-2zM16 24h1v1h-1zM18 24h1v1h-1zM20 24h5v1h-5zM26 24h2v1h-2zM0 25h1v1h-1zM2 25h3v1h-3zM6 25h1v1h-1zM18 25h3v1h-3zM23 25h5v1h-5zM0 26h1v1h-1zM2 26h3v1h-3zM6 26h1v1h-1zM10 26h5v1h-5zM17 26h4v1h-4zM22 26h1v1h-1zM25 26h2v1h-2zM0 27h1v1h-1zM6 27h1v1h-1zM8 27h1v1h-1zM11 27h1v1h-1zM14 27h4v1h-4zM21 27h4v1h-4zM0 28h7v1h-7zM8 28h2v1h-2zM11 28h1v1h-1zM13 28h1v1h-1zM17 28h1v1h-1zM19 28h1v1h-1zM21 28h1v1h-1zM23 28h1v1h-1zM26 28h1v1h-1zM28 28h1v1h-1z" fill="#111111"/>
</svg>
</body></html>
